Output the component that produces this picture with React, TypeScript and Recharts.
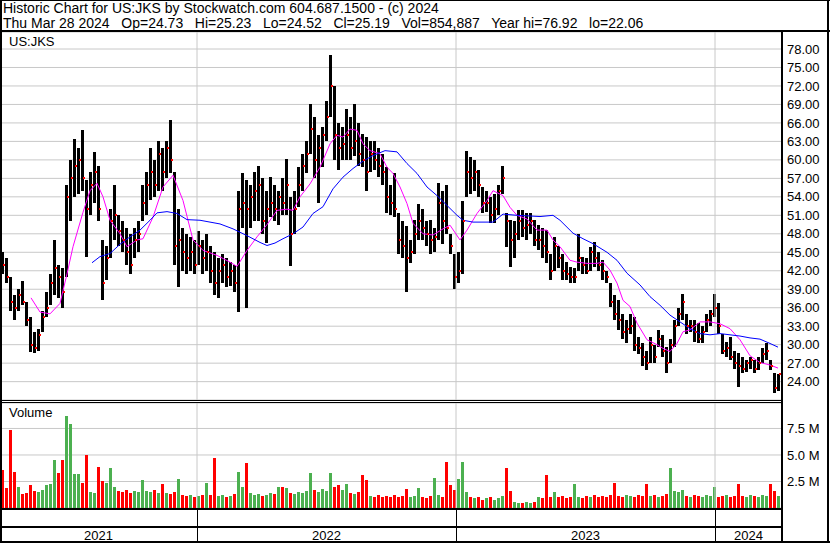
import React from "react";
import {
  Bar,
  CartesianGrid,
  Cell,
  ComposedChart,
  Line,
  ReferenceLine,
  Scatter,
  XAxis,
  YAxis,
} from "recharts";

// price bars, one per 4 trading days (day slot = index * 4 + 2)
const barHi = [
  45, 44, 41, 38, 39, 40.4, 37, 34.5, 32, 32.5, 35.5, 38.5, 41.5, 47, 43, 42.5, 56, 60, 63.4, 62,
  64.8, 56.7, 58, 61.3, 59, 47, 46, 52, 56, 51, 50, 49, 48, 49, 50, 56, 58, 62, 60, 63,
  62, 63, 66.4, 58, 52, 49, 48, 47.5, 47, 48.5, 47, 48, 46, 45, 44, 44.8, 44, 43.5, 43, 55,
  57.8, 56.7, 56, 58, 59, 57, 55, 57.2, 56, 55, 57, 60.1, 54, 55, 58.8, 61, 63.1, 69, 67, 64,
  65.3, 69.6, 77, 72, 66, 65.3, 68.3, 67, 69, 66, 64.2, 63.7, 63, 63, 62, 61, 58.8, 56, 57.8, 51.3,
  50, 49.2, 47, 50.2, 52.9, 52, 50, 50.2, 49, 56.2, 55, 56, 48, 44.8, 45, 53.4, 61.4, 60.5, 60, 58.3,
  55.6, 55, 54, 54.5, 56, 59, 51.3, 50.2, 50, 51.8, 51.8, 51.3, 51.3, 50.2, 49.5, 49, 48.6, 44.8, 47.5, 46,
  44.8, 43.5, 42.6, 42.5, 48, 44.2, 44, 45.9, 46.7, 45, 43.7, 42, 40, 38, 37.3, 35, 34, 35, 34.5, 31.3,
  30.2, 29, 31.2, 30, 32.4, 31.5, 29.7, 31, 34, 36, 38.3, 35, 34, 34, 33.5, 33, 35, 35.6, 38.3, 36.7,
  31.8, 30.5, 31.3, 29, 28.6, 28, 27.5, 28, 27.5, 28, 29.5, 30.2, 27.5, 25.4, 25.3,
];
const barLo = [
  41.5, 40, 35.5, 34, 35.5, 36.5, 33, 28.8, 28.6, 29, 32, 34.5, 36.5, 38, 37.5, 36, 41, 50, 54, 54.5,
  55, 44.3, 51, 53, 50, 37.3, 40.5, 44, 47, 46, 45, 43, 41.5, 44, 45, 50, 51, 53.5, 54, 55,
  55, 57, 57.8, 43, 39.4, 42, 41.5, 42, 41.5, 43, 41.5, 42, 40, 38, 37.5, 40, 39.4, 39.5, 38.5, 35.3,
  49, 36, 49, 50, 50, 48, 46.5, 50.7, 50, 49.5, 51, 51, 42.8, 48, 52.4, 55, 57.8, 61, 57, 53,
  58.8, 63, 67, 60, 58.3, 60, 60, 60, 60.6, 59, 58.8, 55, 58, 58.3, 57.2, 56, 51.3, 51, 50.7, 44.8,
  44, 38.5, 43.2, 44.8, 47, 47, 46, 44.8, 45, 47, 46.4, 48, 44.8, 39, 40, 41.5, 54, 54.5, 55, 54,
  51.3, 51.5, 49.7, 49.7, 51, 54.5, 45.9, 42.6, 44, 47, 47.5, 47, 48, 46, 45.3, 44, 43.2, 40.5, 42, 42.5,
  40.5, 40.5, 40, 40, 42, 41.5, 41.5, 42, 42.6, 42, 40.5, 40, 36.1, 34, 32.4, 31, 30.2, 31.8, 29, 28.5,
  26.5, 25.9, 27, 27, 29.7, 28, 25.4, 27, 29.7, 33, 34, 31.8, 32, 30.5, 30.2, 30.2, 32, 33, 34.5, 31.8,
  28.5, 28, 27.5, 26, 23.2, 25.4, 25.5, 26, 25.4, 25.9, 27, 27.5, 25.9, 22.1, 22.5,
];
const barCl = [
  43, 41, 37, 36, 38, 37, 34, 30, 29.5, 31.5, 34.5, 36, 40, 42.5, 41, 38.5, 54, 57, 59, 60,
  57, 52, 56, 58, 52, 40, 44, 50, 51, 48.5, 47, 45, 43, 47, 48, 53, 56, 58, 56, 61,
  58, 62, 60, 46, 47, 45, 44, 45, 43, 46, 44, 45, 42, 40, 42, 43, 41, 42, 40, 52,
  53, 52, 54, 55, 56, 50, 52, 53, 52, 54, 53, 56, 48, 52, 56, 59, 61, 65, 60, 62,
  64, 67, 72, 64, 62, 62.5, 64, 62, 63, 61, 60, 58, 61, 60, 59, 58, 54, 53, 52, 47,
  46, 44, 45, 48, 50, 49, 48, 47, 47.5, 53, 50, 49, 46, 41, 42, 50, 58, 57, 58, 56,
  53, 53, 51, 52, 55, 57, 50, 47, 48, 50, 49, 49.5, 50, 47, 47, 46, 45, 42, 46, 44,
  42, 41.5, 41, 41, 44, 43, 42, 45, 44, 43, 42, 41, 37, 35, 34, 32, 32.5, 33, 30, 29.5,
  28, 27, 30, 28, 31, 29, 27, 30, 33, 35, 37, 33, 33, 32, 31, 32, 34, 35, 36, 33,
  29, 29.5, 28, 27, 26.5, 26, 27, 27.5, 26, 27, 28.5, 29, 26.5, 23, 25.2,
];
// volume in millions, same 4-day slots
const volM = [
  3.6, 1.9, 7.4, 3.4, 2.0, 1.3, 1.4, 2.2, 1.6, 1.5, 1.7, 2.2, 2.3, 4.5, 3.3, 4.5, 8.7, 7.9, 3.2, 3.2,
  2.4, 5.0, 1.5, 1.4, 3.9, 2.5, 2.4, 3.8, 2.0, 1.6, 1.5, 1.7, 1.4, 1.6, 1.5, 2.6, 1.6, 1.5, 1.7, 1.4,
  2.3, 1.4, 1.3, 1.5, 2.7, 1.2, 1.1, 1.2, 1.0, 1.1, 1.2, 2.4, 1.2, 4.7, 1.1, 1.2, 1.0, 1.1, 1.3, 3.4,
  2.0, 4.2, 1.4, 1.2, 1.3, 1.1, 1.2, 1.4, 1.3, 2.0, 2.0, 1.9, 1.4, 1.3, 1.5, 1.4, 1.6, 3.3, 1.7, 1.5,
  1.8, 1.6, 3.3, 2.0, 2.2, 1.7, 2.3, 1.4, 1.3, 1.5, 3.1, 2.6, 1.1, 1.0, 1.2, 1.0, 1.1, 1.0, 1.2, 1.0,
  1.1, 1.8, 1.0, 1.1, 1.9, 1.0, 0.9, 1.1, 2.8, 1.2, 1.0, 4.3, 2.2, 1.7, 2.7, 4.3, 1.5, 1.0, 0.9, 1.0,
  0.8, 0.9, 1.0, 0.8, 0.9, 1.1, 3.8, 1.6, 0.6, 0.5, 0.5, 0.6, 0.5, 0.6, 1.0, 0.9, 3.1, 1.0, 1.5, 1.0,
  1.1, 0.9, 1.0, 2.3, 1.0, 0.9, 1.1, 1.0, 1.2, 1.0, 1.1, 1.0, 1.2, 2.4, 1.1, 1.0, 1.2, 1.1, 1.0, 1.2,
  1.1, 2.3, 1.1, 1.2, 1.0, 1.1, 1.3, 3.8, 1.6, 1.5, 1.7, 1.1, 1.0, 1.2, 1.1, 1.0, 1.2, 1.1, 2.0, 1.0,
  1.1, 1.2, 1.0, 1.1, 2.3, 1.1, 1.0, 1.2, 1.1, 1.0, 1.2, 1.1, 2.3, 1.6, 1.1,
];

// moving averages (day slot, value)
const fastDay = [
  31, 40, 50, 60, 67, 73, 83, 90, 97, 103, 110, 120, 127, 137, 143, 153, 163, 173, 183, 193,
  203, 217, 230, 237, 247, 257, 267, 277, 287, 293, 300, 310, 320, 330, 337, 343, 350, 357, 363, 370,
  380, 387, 393, 400, 407, 413, 423, 433, 443, 450, 460, 467, 477, 487, 493, 503, 510, 517, 527, 537,
  547, 553, 560, 570, 577, 587, 597, 603, 610, 617, 623, 630, 637, 647, 657, 663, 670, 677, 683, 690,
  700, 710, 720, 730, 740, 750, 760, 770, 778,
];
const fastVal = [
  37.6, 35.3, 35, 36.7, 41.5, 45.9, 51.5, 55, 56.2, 54, 50.2, 48, 45.9, 47, 47.2, 50.7, 55.6, 57.5, 53.4, 47,
  45.3, 44.5, 43.4, 42.7, 45.3, 47.5, 49.5, 51.8, 52, 51.8, 54, 56.1, 58.8, 62.6, 64, 63.7, 65, 64.8, 62.6, 61.5,
  61, 58.8, 57.8, 55.6, 52.9, 49.7, 48, 47.8, 48.8, 49.4, 47, 48.6, 51.3, 53.4, 55, 54.2, 52.3, 51, 50.4, 48.6,
  48.6, 47, 45.9, 43.7, 43.4, 43.2, 43.2, 43.4, 42.1, 40, 37.2, 36.2, 33.5, 30.8, 30, 29.4, 28.9, 30.2, 32.1, 32.4,
  33.7, 33.7, 33.4, 32.6, 30.8, 28.2, 27.1, 26.7, 26.2,
];
const slowDay = [
  92, 100, 110, 120, 130, 140, 150, 157, 167, 177, 187, 200, 210, 220, 233, 247, 260, 267, 275, 283,
  293, 303, 313, 323, 333, 343, 353, 363, 373, 385, 397, 407, 417, 427, 437, 447, 457, 463, 473, 493,
  503, 517, 540, 553, 560, 573, 583, 593, 607, 617, 627, 640, 650, 660, 670, 680, 690, 700, 710, 720,
  730, 740, 750, 760, 770, 778,
];
const slowVal = [
  43.3, 44.3, 44.8, 46.3, 47.5, 48.6, 50.2, 51.4, 51.6, 51.3, 50.3, 50.2, 49.9, 49.6, 48.8, 47.7, 46.6, 46.1, 46.5, 47.2,
  48, 49.1, 51.3, 52.4, 55.3, 57.2, 58.6, 59.8, 60.7, 61.5, 61.3, 59.4, 57.8, 55.6, 54.2, 52.6, 51, 50.2, 49.9, 49.9,
  51.2, 51, 50.8, 51, 50.2, 48.1, 47.2, 46.4, 45, 43.7, 41.6, 39.7, 37.8, 36.4, 34.8, 33.7, 32.6, 31.8, 31.6, 31.8,
  31.6, 31.4, 31.1, 30.9, 30.2, 29.6,
];

const priceTicks = [24, 27, 30, 33, 36, 39, 42, 45, 48, 51, 54, 57, 60, 63, 66, 69, 72, 75, 78];
const volTicks = [2.5, 5, 7.5];
const yearStart = [197, 456, 715];
const years = ["2021", "2022", "2023", "2024"];
const lastDay = 782;

const FONT = '"Liberation Sans", Arial, sans-serif';
const GREEN = "#4cb050";
const RED = "#ff0000";
const GRID = "#c8c8c8";

const bars = barHi.map((hi, i) => ({
  d: i * 4 + 2,
  range: [barLo[i], hi],
  cl: barCl[i],
  v: volM[i],
  up: i > 0 && barCl[i] >= barCl[i - 1],
}));
const fast = fastDay.map((d, i) => ({ d, ma: fastVal[i] }));
const slow = slowDay.map((d, i) => ({ d, ma: slowVal[i] }));

const line = (left: number, top: number, width: number, height: number, color = "#000") => (
  <div style={{ position: "absolute", left, top, width, height, background: color }} />
);

// crisp pixel-aligned bar
const PixelBar = (p: any) => {
  const cx = Math.round(p.x + p.width / 2);
  const top = Math.round(p.y);
  const h = Math.max(1, Math.round(p.y + p.height) - top);
  return <rect x={cx - 1} y={top} width={3} height={h} fill={p.fill} shapeRendering="crispEdges" />;
};

export default function App() {
  const bounds = [0, ...yearStart, lastDay];
  const axisTick = { fill: "#000", fontSize: 13, fontFamily: FONT };
  return (
    <div
      style={{
        position: "relative",
        width: 830,
        height: 543,
        background: "#fff",
        fontFamily: FONT,
        color: "#000",
        overflow: "hidden",
      }}
    >
      <style>{"body{margin:0}"}</style>

      <div style={{ position: "absolute", left: 3, top: 1, fontSize: 14, lineHeight: "14px", whiteSpace: "pre" }}>
        Historic Chart for US:JKS by Stockwatch.com 604.687.1500 - (c) 2024
      </div>
      <div style={{ position: "absolute", left: 3, top: 16, fontSize: 14, lineHeight: "14px", whiteSpace: "pre" }}>
        {"Thu Mar 28 2024   Op=24.73   Hi=25.23   Lo=24.52   Cl=25.19   Vol=854,887   Year hi=76.92   lo=22.06"}
      </div>

      <div style={{ position: "absolute", left: 0, top: 32 }}>
        <ComposedChart width={830} height={368} data={bars} margin={{ top: 0, right: 0, bottom: 0, left: 0 }}>
          <CartesianGrid stroke={GRID} vertical={false} />
          <XAxis dataKey="d" type="number" domain={[0, lastDay]} hide allowDataOverflow />
          <YAxis
            orientation="right"
            width={48}
            domain={[21.02, 80.76]}
            ticks={priceTicks}
            interval={0}
            allowDataOverflow
            tickFormatter={(v: number) => v.toFixed(2)}
            axisLine={false}
            tickLine={false}
            tickSize={0}
            tickMargin={5}
            tick={axisTick}
          />
          {yearStart.map((d) => (
            <ReferenceLine key={d} x={d} stroke={GRID} />
          ))}
          <Bar dataKey="range" barSize={3} fill="#000" shape={PixelBar} isAnimationActive={false} />
          <Scatter
            dataKey="cl"
            isAnimationActive={false}
            shape={(p: any) => (
              <rect x={Math.round(p.cx) + 1} y={Math.round(p.cy) - 1} width={2} height={2} fill={RED} />
            )}
          />
          <Line data={fast} dataKey="ma" stroke="#ff00ff" strokeWidth={1} dot={false} isAnimationActive={false} />
          <Line data={slow} dataKey="ma" stroke="#0000ff" strokeWidth={1} dot={false} isAnimationActive={false} />
        </ComposedChart>
      </div>

      <div style={{ position: "absolute", left: 0, top: 403 }}>
        <ComposedChart width={830} height={105} data={bars} margin={{ top: 0, right: 0, bottom: 0, left: 0 }}>
          <CartesianGrid stroke={GRID} vertical={false} />
          <XAxis dataKey="d" type="number" domain={[0, lastDay]} hide allowDataOverflow />
          <YAxis
            orientation="right"
            width={48}
            domain={[0, 9.9]}
            ticks={volTicks}
            interval={0}
            allowDataOverflow
            tickFormatter={(v: number) => `${v.toFixed(1)} M`}
            axisLine={false}
            tickLine={false}
            tickSize={0}
            tickMargin={5}
            tick={axisTick}
          />
          {yearStart.map((d) => (
            <ReferenceLine key={d} x={d} stroke={GRID} />
          ))}
          <Bar dataKey="v" barSize={3} shape={PixelBar} isAnimationActive={false}>
            {bars.map((b) => (
              <Cell key={b.d} fill={b.up ? GREEN : RED} />
            ))}
          </Bar>
        </ComposedChart>
      </div>

      <div style={{ position: "absolute", left: 9, top: 35, fontSize: 13, lineHeight: "13px" }}>US:JKS</div>
      <div style={{ position: "absolute", left: 9, top: 406, fontSize: 13, lineHeight: "13px" }}>Volume</div>

      {years.map((y, i) => (
        <div
          key={y}
          style={{
            position: "absolute",
            left: (bounds[i] + bounds[i + 1]) / 2 - 30,
            width: 60,
            top: 529,
            fontSize: 13,
            lineHeight: "13px",
            textAlign: "center",
          }}
        >
          {y}
        </div>
      ))}

      {/* frame */}
      {line(0, 0, 830, 1)}
      {line(0, 0, 2, 543)}
      {line(827, 0, 2, 543)}
      {line(0, 541, 830, 2)}
      {line(0, 30, 830, 2)}
      {line(781, 30, 2, 513)}
      {line(0, 400, 782, 1)}
      {line(0, 402, 782, 1)}
      {line(0, 508, 782, 2)}
      {line(0, 526, 782, 2)}
      {yearStart.map((d) => (
        <React.Fragment key={d}>{line(d, 510, 1, 31)}</React.Fragment>
      ))}
    </div>
  );
}
